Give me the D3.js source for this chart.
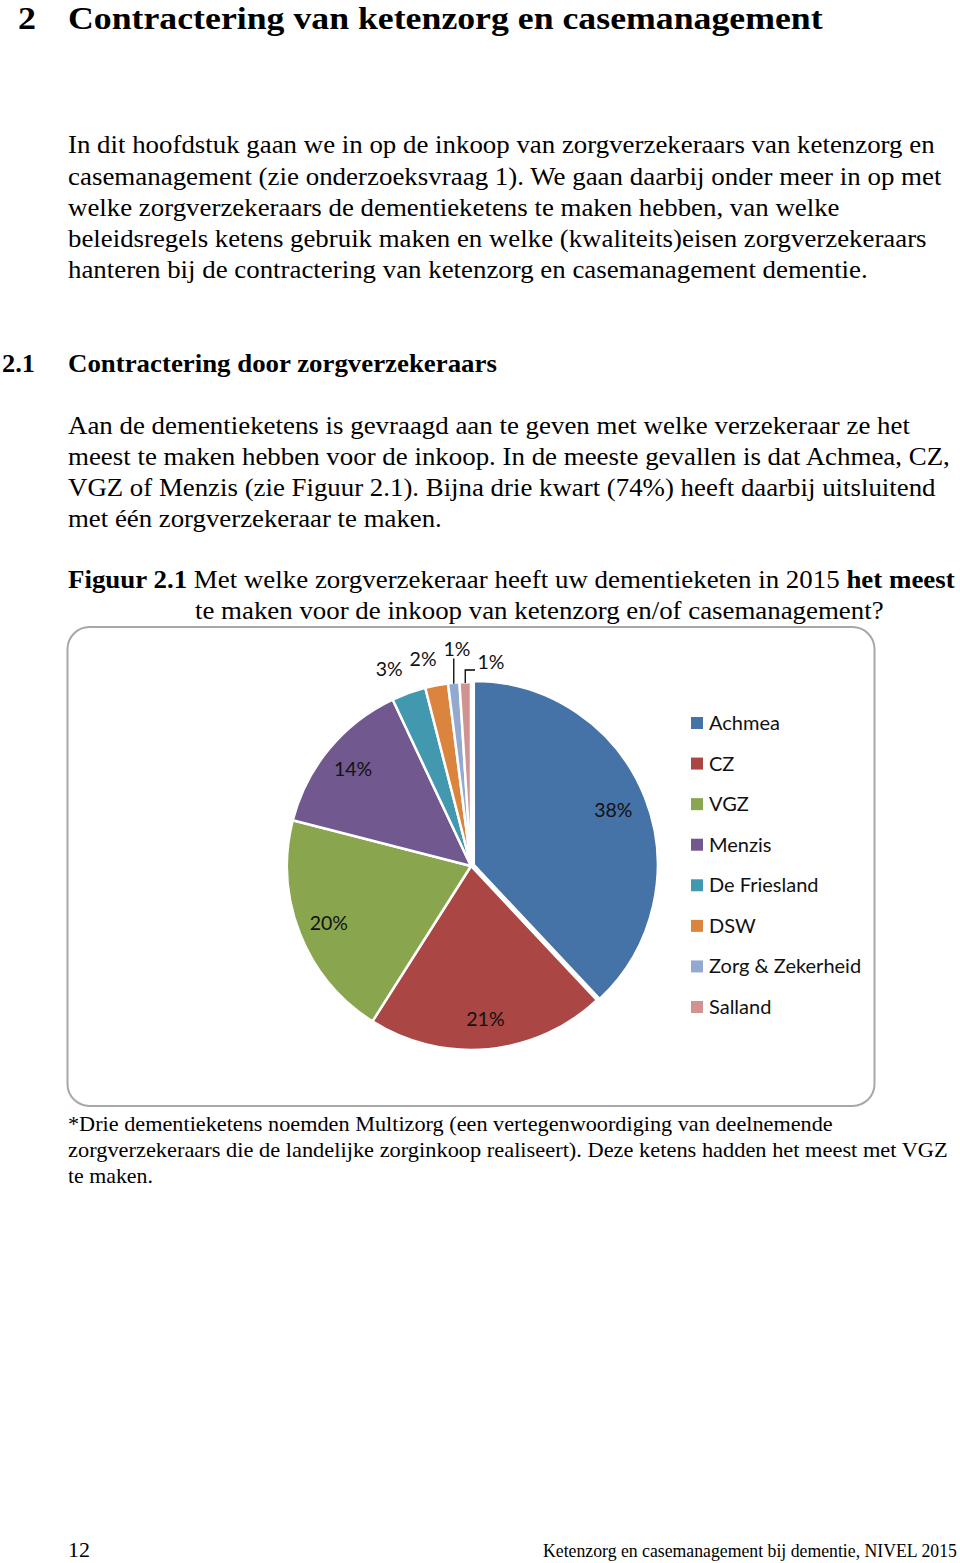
<!DOCTYPE html>
<html>
<head>
<meta charset="utf-8">
<script src="https://cdn.jsdelivr.net/npm/d3@7"></script>
<style>
  html, body { margin: 0; padding: 0; background: #fff; }
  svg { display: block; }
</style>
</head>
<body>
<svg id="page" width="960" height="1563"></svg>
<script>
// ---------- DATA ----------
const insurers = ["Achmea", "CZ", "VGZ", "Menzis", "De Friesland", "DSW", "Zorg & Zekerheid", "Salland"];
const shares = [38, 21, 20, 14, 3, 2, 1, 1];
const colors = ["#4572A7", "#AA4643", "#89A54E", "#71588F", "#4198AF", "#DB843D", "#93A9CF", "#D19392"];

// ---------- TEXT ----------
const serif = "'Liberation Serif', 'Times New Roman', serif";
const sans = "Lato, 'Open Sans', sans-serif";
const svg = d3.select("#page");

// each line: segments [text, bold], x, baseline y, target right edge, font size
const textLines = [
  {segs: [["2", true]], x: 18, y: 29, right: 36, size: 32},
  {segs: [["Contractering van ketenzorg en casemanagement", true]], x: 68, y: 29, right: 823, size: 32},
  {segs: [["In dit hoofdstuk gaan we in op de inkoop van zorgverzekeraars van ketenzorg en", false]], x: 68, y: 153, right: 935, size: 24.5},
  {segs: [["casemanagement (zie onderzoeksvraag 1). We gaan daarbij onder meer in op met", false]], x: 68, y: 184.5, right: 942, size: 24.5},
  {segs: [["welke zorgverzekeraars de dementieketens te maken hebben, van welke", false]], x: 68, y: 216, right: 840, size: 24.5},
  {segs: [["beleidsregels ketens gebruik maken en welke (kwaliteits)eisen zorgverzekeraars", false]], x: 68, y: 247, right: 927, size: 24.5},
  {segs: [["hanteren bij de contractering van ketenzorg en casemanagement dementie.", false]], x: 68, y: 278, right: 868, size: 24.5},
  {segs: [["2.1", true]], x: 2, y: 372, right: 35, size: 25},
  {segs: [["Contractering door zorgverzekeraars", true]], x: 68, y: 372, right: 497, size: 25},
  {segs: [["Aan de dementieketens is gevraagd aan te geven met welke verzekeraar ze het", false]], x: 68, y: 434, right: 910, size: 24.5},
  {segs: [["meest te maken hebben voor de inkoop. In de meeste gevallen is dat Achmea, CZ,", false]], x: 68, y: 465, right: 950, size: 24.5},
  {segs: [["VGZ of Menzis (zie Figuur 2.1). Bijna drie kwart (74%) heeft daarbij uitsluitend", false]], x: 68, y: 496, right: 936, size: 24.5},
  {segs: [["met één zorgverzekeraar te maken.", false]], x: 68, y: 527, right: 442, size: 24.5},
  {segs: [["Figuur 2.1", true], [" Met welke zorgverzekeraar heeft uw dementieketen in 2015 ", false], ["het meest", true]], x: 68, y: 588, right: 955, size: 25},
  {segs: [["te maken voor de inkoop van ketenzorg en/of casemanagement?", false]], x: 195, y: 619, right: 884, size: 25},
  {segs: [["*Drie dementieketens noemden Multizorg (een vertegenwoordiging van deelnemende", false]], x: 68, y: 1131, right: 833, size: 21},
  {segs: [["zorgverzekeraars die de landelijke zorginkoop realiseert). Deze ketens hadden het meest met VGZ", false]], x: 68, y: 1157, right: 948, size: 21},
  {segs: [["te maken.", false]], x: 68, y: 1183, right: 153, size: 21},
  {segs: [["12", false]], x: 68, y: 1557, right: 90, size: 21},
  {segs: [["Ketenzorg en casemanagement bij dementie, NIVEL 2015", false]], x: 543, y: 1557, right: 957, size: 18}
];

textLines.forEach(l => {
  const g = svg.append("g");
  const t = g.append("text")
    .attr("x", 0).attr("y", 0)
    .attr("font-family", serif)
    .attr("font-size", l.size)
    .attr("fill", "#000");
  l.segs.forEach(s => {
    t.append("tspan").attr("font-weight", s[1] ? "bold" : "normal").text(s[0]);
  });
  const natural = t.node().getComputedTextLength();
  const sx = (l.right - l.x) / natural;
  g.attr("transform", `translate(${l.x},${l.y}) scale(${sx},1)`);
});

// ---------- CHART FRAME ----------
svg.append("rect")
  .attr("x", 67.5).attr("y", 627).attr("width", 807).attr("height", 479)
  .attr("rx", 22).attr("ry", 22)
  .attr("fill", "none").attr("stroke", "#a8a8a8").attr("stroke-width", 2);

// ---------- PIE ----------
const cx = 471, cy = 866, R = 184;
const pie = d3.pie().sort(null).value(d => d)(shares);
const arc = d3.arc().innerRadius(0).outerRadius(R);
const labelArc = d3.arc().innerRadius(153).outerRadius(153);

const gPie = svg.append("g").attr("transform", `translate(${cx},${cy})`);

gPie.selectAll("path.slice")
  .data(pie)
  .join("path")
  .attr("class", "slice")
  .attr("d", arc)
  .attr("fill", (d, i) => colors[i])
  .attr("stroke", "#fff")
  .attr("stroke-width", 2.5)
  .attr("stroke-linejoin", "round")
  .attr("transform", (d, i) => {
    if (i !== 0) return null;
    const a = (d.startAngle + d.endAngle) / 2;
    return `translate(${3 * Math.sin(a)},${-3 * Math.cos(a)})`;
  });

// label layout for the small slices: [angle offset in degrees, radius]
const smallLabelLayout = [null, null, null, null, [-2.7, 214], [-2.2, 213], [1.7, 218], [7.4, 205]];
const labelPos = pie.map((d, i) => {
  const lay = smallLabelLayout[i];
  if (!lay) return labelArc.centroid(d);
  const a = (d.startAngle + d.endAngle) / 2 + lay[0] * Math.PI / 180;
  return [lay[1] * Math.sin(a), -lay[1] * Math.cos(a)];
});

gPie.selectAll("text.lbl")
  .data(pie)
  .join("text")
  .attr("class", "lbl")
  .attr("x", (d, i) => labelPos[i][0])
  .attr("y", (d, i) => labelPos[i][1])
  .attr("text-anchor", "middle")
  .attr("dominant-baseline", "central")
  .attr("font-family", sans)
  .attr("font-size", 19.5)
  .attr("fill", "#111")
  .text(d => d.data + "%");

// leader lines for the two 1% slices
const lineGen = d3.line();
[6, 7].forEach(i => {
  const d = pie[i];
  const a = (d.startAngle + d.endAngle) / 2;
  const edge = [(R - 1) * Math.sin(a), -(R - 1) * Math.cos(a)];
  let pts;
  if (i === 6) {
    pts = [edge, [edge[0], labelPos[i][1] + 10]];
  } else {
    const elbowY = labelPos[i][1] + 8;
    pts = [edge, [edge[0], elbowY], [labelPos[i][0] - 16, elbowY]];
  }
  gPie.append("path")
    .attr("d", lineGen(pts))
    .attr("fill", "none")
    .attr("stroke", "#000")
    .attr("stroke-width", 1.3);
});

// ---------- LEGEND ----------
const legendY = d3.scalePoint().domain(insurers).range([723, 1007]);
const gLeg = svg.append("g");
const items = gLeg.selectAll("g.item")
  .data(insurers)
  .join("g")
  .attr("class", "item")
  .attr("transform", d => `translate(691,${legendY(d)})`);
items.append("rect")
  .attr("x", 0).attr("y", -6).attr("width", 12).attr("height", 12)
  .attr("fill", (d, i) => colors[i]);
items.append("text")
  .attr("x", 18).attr("y", -1)
  .attr("dominant-baseline", "central")
  .attr("font-family", sans)
  .attr("font-size", 20)
  .attr("fill", "#111")
  .text(d => d);
</script>
</body>
</html>
